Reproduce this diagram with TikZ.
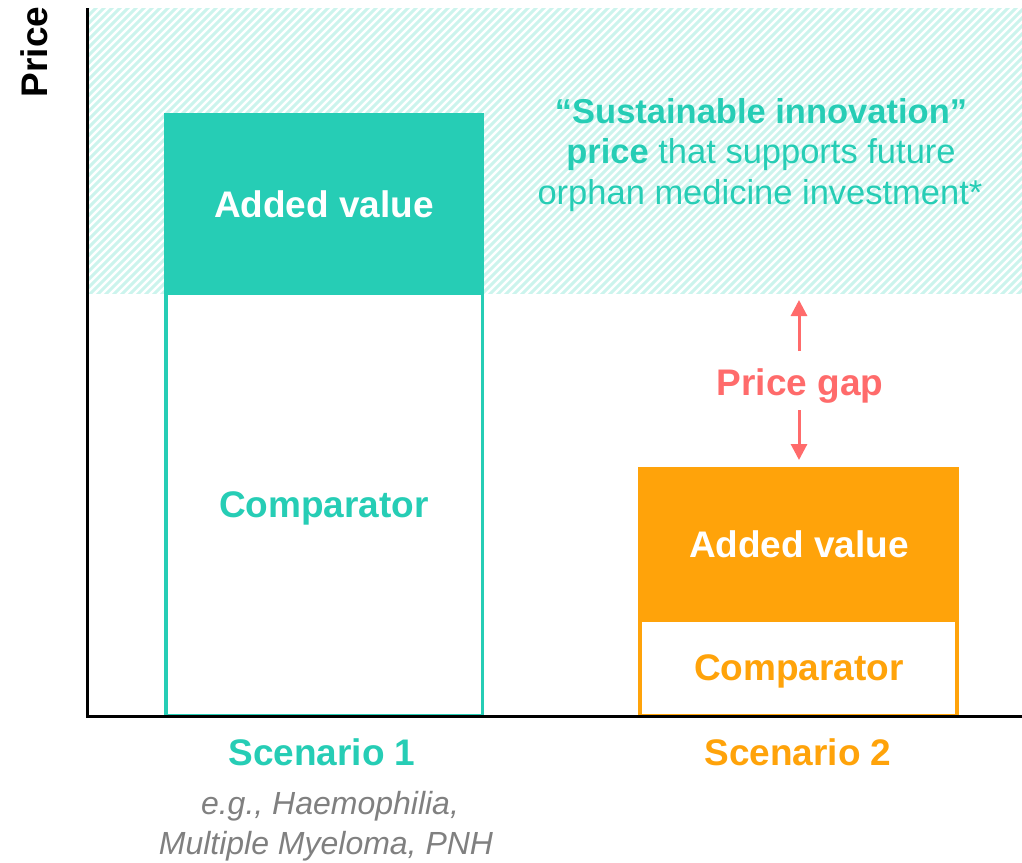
\documentclass[tikz,border=0pt]{standalone}
\usepackage{fontspec}
\setmainfont{Liberation Sans}
\usetikzlibrary{arrows.meta}
\definecolor{tealc}{HTML}{26CDB5}
\definecolor{orangec}{HTML}{FFA30A}
\definecolor{hatchc}{HTML}{CCF4ED}
\definecolor{gapc}{HTML}{FF6B6B}
\definecolor{greyc}{HTML}{808080}
\begin{document}
\begin{tikzpicture}[x=1pt,y=-1pt,
  big/.style={font=\fontsize{37}{42}\selectfont\bfseries, inner sep=0pt},
  note/.style={font=\fontsize{34.5}{42}\selectfont, text=tealc, inner sep=0pt},
  ital/.style={font=\fontsize{32}{41}\selectfont\itshape, text=greyc, inner sep=0pt},
  gaparrow/.style={gapc, line width=3pt, -{Triangle[width=16pt,length=16pt]}}]
\useasboundingbox (0,0) rectangle (1022,862);

% hatched band for the sustainable innovation price level
\begin{scope}
  \clip (88,8) rectangle (1022,293);
  \foreach \i in {0,...,160}
    \draw[hatchc, line width=3pt] ({-212+\i*8},300) -- ++(300,-300);
\end{scope}

% Scenario 1 bar
\fill[tealc] (164,113) rectangle (484,293);
\draw[tealc, fill=white, line width=3.5pt] (165.75,293) rectangle (482.25,716);
% Scenario 2 bar
\fill[orangec] (638,467) rectangle (959,620);
\draw[orangec, fill=white, line width=4pt] (640,620) rectangle (957,716);

% axes
\draw[line width=3pt] (87,8) -- (87,716.5) -- (1022,716.5);

% bar labels
\node[big, text=white] (av1) at (324,204) {Added value};
\node[big, text=tealc] (cp1) at (324,508) {Comparator};
\node[big, text=white] (av2) at (799,544) {Added value};
\node[big, text=orangec] (cp2) at (799,671) {Comparator};

% axis labels
\node[big, rotate=90] (price) at (34,52) {Price};
\node[big, text=tealc] (sc1) at (322,752) {Scenario 1};
\node[big, text=orangec] (sc2) at (798,752) {Scenario 2};
\node[ital] (eg1) at (330,806) {e.g., Haemophilia,};
\node[ital] (eg2) at (326,846) {Multiple Myeloma, PNH};

% price level caption
\node[note] (n1) at (761,111) {\bfseries “Sustainable innovation”};
\node[note] (n2) at (761,155) {\bfseries price\mdseries{} that supports future};
\node[note] (n3) at (760,196) {orphan medicine investment*};

% price gap
\node[big, text=gapc] (gap) at (800,386) {Price gap};
\coordinate (upS) at (799,351);
\coordinate (upT) at (799,300);
\coordinate (dnS) at (799,410);
\coordinate (dnT) at (799,460);
\draw[gaparrow] (upS) -- (upT);
\draw[gaparrow] (dnS) -- (dnT);
\end{tikzpicture}
\end{document}
